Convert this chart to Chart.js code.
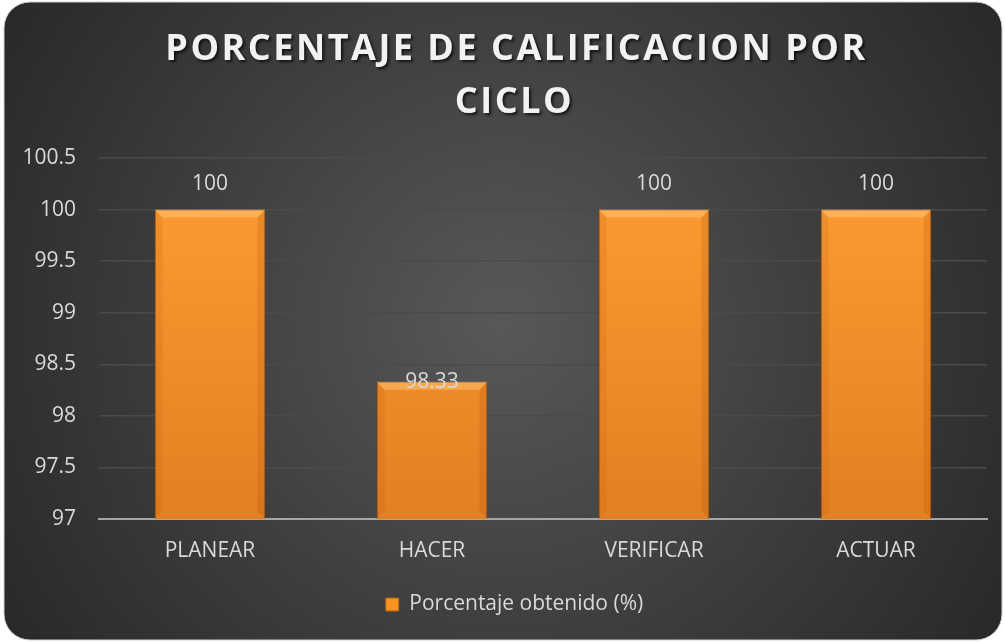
<!DOCTYPE html>
<html>
<head>
<meta charset="utf-8">
<script src="https://cdn.jsdelivr.net/npm/chart.js@4.4.1/dist/chart.umd.min.js"></script>
<style>
    html, body { margin: 0; padding: 0; background: #ffffff; }
    canvas { display: block; }
</style>
</head>
<body>
<canvas id="grafico" width="1005" height="642"></canvas>
<script>
// Datos del gráfico
const tituloLineas = ['PORCENTAJE DE CALIFICACION POR', 'CICLO'];
const ciclos = ['PLANEAR', 'HACER', 'VERIFICAR', 'ACTUAR'];
const porcentajes = [100, 98.33, 100, 100];
const nombreSerie = 'Porcentaje obtenido (%)';
const ejeMin = 97;
const ejeMax = 100.5;
const ejePaso = 0.5;

// Estilo (no son datos)
const fuente = "'Open Sans', 'DejaVu Sans', sans-serif";
const colorTexto = '#d9d9d9';
const elevacionEtiqueta = [26, 0, 26, 26]; // en el original la etiqueta de HACER queda sobre el borde

// Fondo redondeado con degradado + título
const fondoPlugin = {
    id: 'fondo',
    afterLayout: function(chart) {
        // la leyenda del original está un poco desplazada a la derecha
        chart.legend.left += 21;
        chart.legend.right += 21;
    },
    beforeDraw: function(chart) {
        const ctx = chart.ctx;
        const w = chart.width, h = chart.height;
        ctx.save();
        const x = 4, y = 2, rw = w - 7, rh = h - 4, r = 26;
        ctx.beginPath();
        ctx.moveTo(x + r, y);
        ctx.arcTo(x + rw, y, x + rw, y + rh, r);
        ctx.arcTo(x + rw, y + rh, x, y + rh, r);
        ctx.arcTo(x, y + rh, x, y, r);
        ctx.arcTo(x, y, x + rw, y, r);
        ctx.closePath();
        const grad = ctx.createRadialGradient(w * 0.5, h * 0.5, 0, w * 0.5, h * 0.5, 620);
        grad.addColorStop(0, '#585858');
        grad.addColorStop(0.55, '#3c3c3c');
        grad.addColorStop(1, '#262626');
        ctx.fillStyle = grad;
        ctx.fill();
        ctx.strokeStyle = '#d0d0d0';
        ctx.lineWidth = 1;
        ctx.stroke();

        // Título
        ctx.font = "bold 36px " + fuente;
        ctx.letterSpacing = '2.5px';
        ctx.textAlign = 'center';
        ctx.textBaseline = 'middle';
        ctx.shadowColor = 'rgba(0,0,0,0.7)';
        ctx.shadowOffsetX = 2;
        ctx.shadowOffsetY = 2;
        ctx.shadowBlur = 3;
        ctx.fillStyle = '#f2f2f2';
        ctx.fillText(tituloLineas[0], w / 2 + 14, 50);
        ctx.fillText(tituloLineas[1], w / 2 + 12, 103);
        ctx.restore();
    }
};

// Bisel de las barras y etiquetas de datos
const barrasPlugin = {
    id: 'barras',
    afterDatasetsDraw: function(chart) {
        const ctx = chart.ctx;
        const meta = chart.getDatasetMeta(0);
        const fondo = chart.chartArea.bottom;
        ctx.save();
        meta.data.forEach(function(bar, i) {
            const left = bar.x - bar.width / 2;
            const right = bar.x + bar.width / 2;
            const top = bar.y;
            const base = Math.min(bar.base, fondo);
            const b = 8;
            // franja superior clara
            ctx.beginPath();
            ctx.moveTo(left, top);
            ctx.lineTo(right, top);
            ctx.lineTo(right - b, top + b);
            ctx.lineTo(left + b, top + b);
            ctx.closePath();
            ctx.fillStyle = 'rgba(255, 200, 120, 0.5)';
            ctx.fill();
            // lados
            ctx.beginPath();
            ctx.moveTo(right, top);
            ctx.lineTo(right, base);
            ctx.lineTo(right - b, base - b);
            ctx.lineTo(right - b, top + b);
            ctx.closePath();
            ctx.fillStyle = 'rgba(160, 70, 0, 0.18)';
            ctx.fill();
            ctx.beginPath();
            ctx.moveTo(left, top);
            ctx.lineTo(left, base);
            ctx.lineTo(left + b, base - b);
            ctx.lineTo(left + b, top + b);
            ctx.closePath();
            ctx.fillStyle = 'rgba(160, 70, 0, 0.12)';
            ctx.fill();

            // etiqueta
            ctx.font = "21px " + fuente;
            ctx.fillStyle = colorTexto;
            ctx.textAlign = 'center';
            ctx.textBaseline = 'middle';
            ctx.fillText(String(porcentajes[i]), bar.x, top - elevacionEtiqueta[i]);
        });
        ctx.restore();
    }
};

function degradadoBarra(context) {
    const chart = context.chart;
    const area = chart.chartArea;
    if (!area) return '#f7931e';
    const g = chart.ctx.createLinearGradient(0, area.top, 0, area.bottom);
    g.addColorStop(0, '#ff9d33');
    g.addColorStop(1, '#e47f22');
    return g;
}

const ctx = document.getElementById('grafico').getContext('2d');
new Chart(ctx, {
    type: 'bar',
    data: {
        labels: ciclos,
        datasets: [{
            label: nombreSerie,
            data: porcentajes,
            backgroundColor: degradadoBarra,
            borderColor: 'rgba(140, 60, 0, 0.7)',
            borderWidth: 1,
            categoryPercentage: 1,
            barPercentage: 0.5
        }]
    },
    options: {
        responsive: false,
        animation: false,
        layout: {
            padding: { top: 158, right: 18, bottom: 17, left: 0 }
        },
        scales: {
            x: {
                grid: { display: false, drawTicks: false },
                border: { display: true, color: '#a6a6a6', width: 2 },
                ticks: {
                    color: colorTexto,
                    font: { family: fuente, size: 21 },
                    padding: 19
                },
                afterFit: function(scale) { scale.height = 67; }
            },
            y: {
                min: ejeMin,
                max: ejeMax,
                grid: {
                    drawTicks: false,
                    color: function(c) { return c.index === 0 ? 'rgba(0,0,0,0)' : '#4a4a4a'; },
                    lineWidth: 1.5
                },
                border: { display: false },
                ticks: {
                    stepSize: ejePaso,
                    color: colorTexto,
                    font: { family: fuente, size: 21 },
                    padding: 23,
                    callback: function(v) { return String(Number(v)); }
                },
                afterFit: function(scale) { scale.width = 99; }
            }
        },
        plugins: {
            title: { display: false },
            tooltip: { enabled: false },
            legend: {
                position: 'bottom',
                labels: {
                    color: colorTexto,
                    font: { family: fuente, size: 21 },
                    boxWidth: 13,
                    boxHeight: 13,
                    padding: 8,
                    generateLabels: function(chart) {
                        return [{
                            text: nombreSerie,
                            fillStyle: '#f7931e',
                            strokeStyle: '#b85e10',
                            lineWidth: 1,
                            fontColor: colorTexto,
                            datasetIndex: 0
                        }];
                    }
                }
            }
        }
    },
    plugins: [fondoPlugin, barrasPlugin]
});
</script>
</body>
</html>
